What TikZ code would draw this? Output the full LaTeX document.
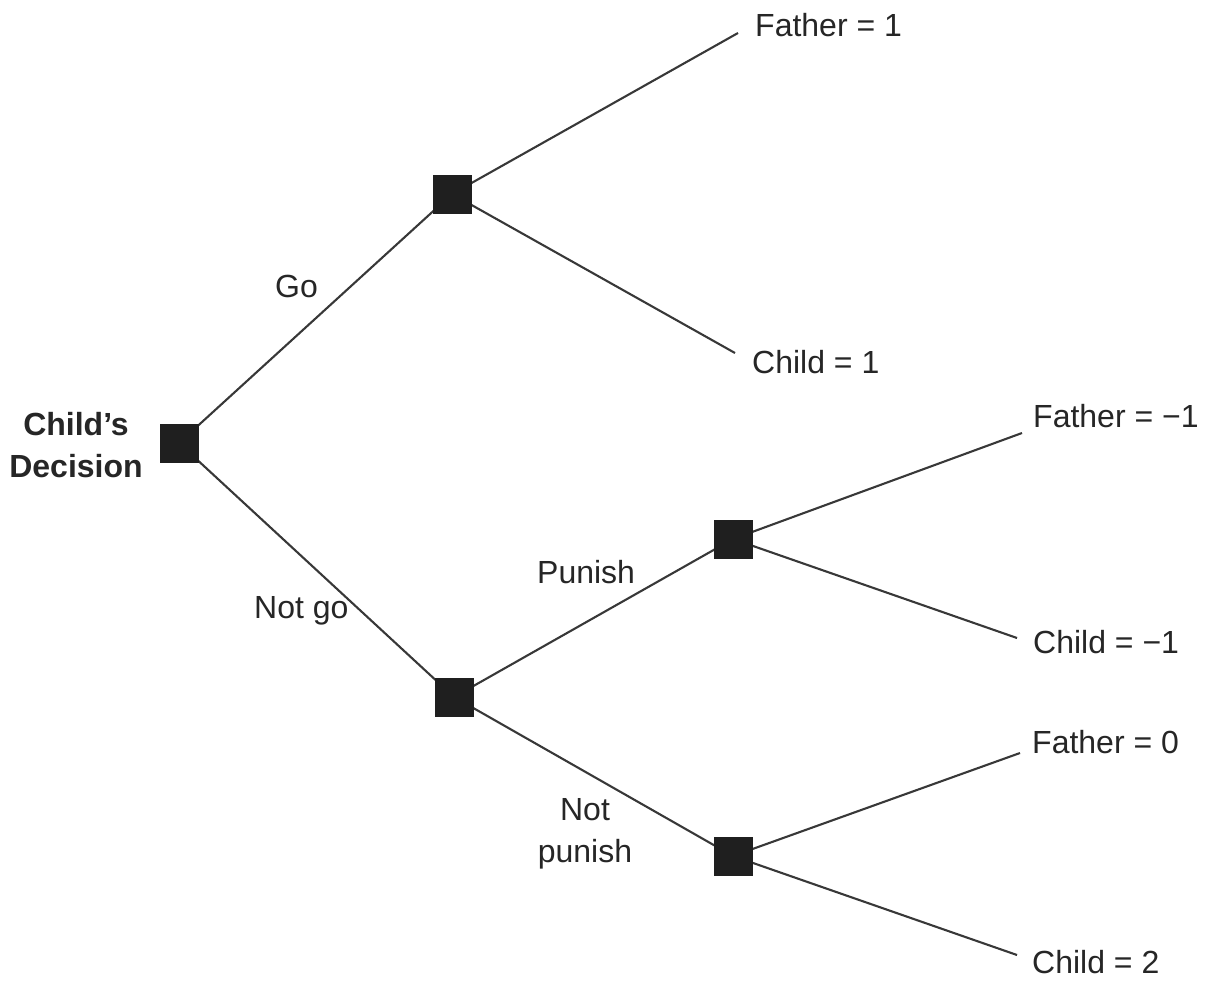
\documentclass[tikz,border=0pt]{standalone}
\usepackage{fontspec}
\setmainfont{Liberation Sans}
\begin{document}
\begin{tikzpicture}[x=1pt,y=-1pt,
  decision/.style={draw=black!88,fill=black!88,minimum size=38pt,inner sep=0pt,line width=0.8pt},
  branch/.style={line width=2.1pt,draw=black!78},
  lbl/.style={inner sep=0pt,text=black!85,font=\fontsize{32}{42}\selectfont},
  payoff/.style={lbl,anchor=base west}]
\useasboundingbox (0,0) rectangle (1207,980);

% end points of the payoff branches
\coordinate (f1) at (738,33);
\coordinate (c1) at (735,353);
\coordinate (fm1) at (1022,433);
\coordinate (cm1) at (1017,638);
\coordinate (f0) at (1020,753);
\coordinate (c2) at (1017,955);

% decision node positions (squares are drawn over the branches)
\coordinate (rootc) at (179,443);
\coordinate (goc) at (452,194);
\coordinate (notgoc) at (454,697);
\coordinate (punc) at (733,539);
\coordinate (npunc) at (733,856);

% branches
\draw[branch] (rootc) -- (goc);
\draw[branch] (rootc) -- (notgoc);
\draw[branch] (goc) -- (f1);
\draw[branch] (goc) -- (c1);
\draw[branch] (notgoc) -- (punc);
\draw[branch] (notgoc) -- (npunc);
\draw[branch] (punc) -- (fm1);
\draw[branch] (punc) -- (cm1);
\draw[branch] (npunc) -- (f0);
\draw[branch] (npunc) -- (c2);

% decision squares
\node[decision] (root) at (rootc) {};
\node[decision] (go) at (goc) {};
\node[decision] (notgo) at (notgoc) {};
\node[decision] (pun) at (punc) {};
\node[decision] (npun) at (npunc) {};

% root label (base anchor sits on the last line)
\node[lbl,align=center,anchor=base,font=\bfseries\fontsize{32}{42}\selectfont] (rootlbl) at (76,477) {Child’s\\Decision};

% branch labels
\node[payoff] (lgo) at (275,297) {Go};
\node[payoff] (lnotgo) at (254,618) {Not go};
\node[payoff] (lpun) at (537,583) {Punish};
\node[lbl,align=center,anchor=base] (lnpun) at (585,862) {Not\\punish};

% payoffs
\node[payoff] (tf1) at (755,36) {Father = 1};
\node[payoff] (tc1) at (752,373) {Child = 1};
\node[payoff] (tfm1) at (1033,427) {Father = −1};
\node[payoff] (tcm1) at (1033,653) {Child = −1};
\node[payoff] (tf0) at (1032,753) {Father = 0};
\node[payoff] (tc2) at (1032,973) {Child = 2};
\end{tikzpicture}
\end{document}
